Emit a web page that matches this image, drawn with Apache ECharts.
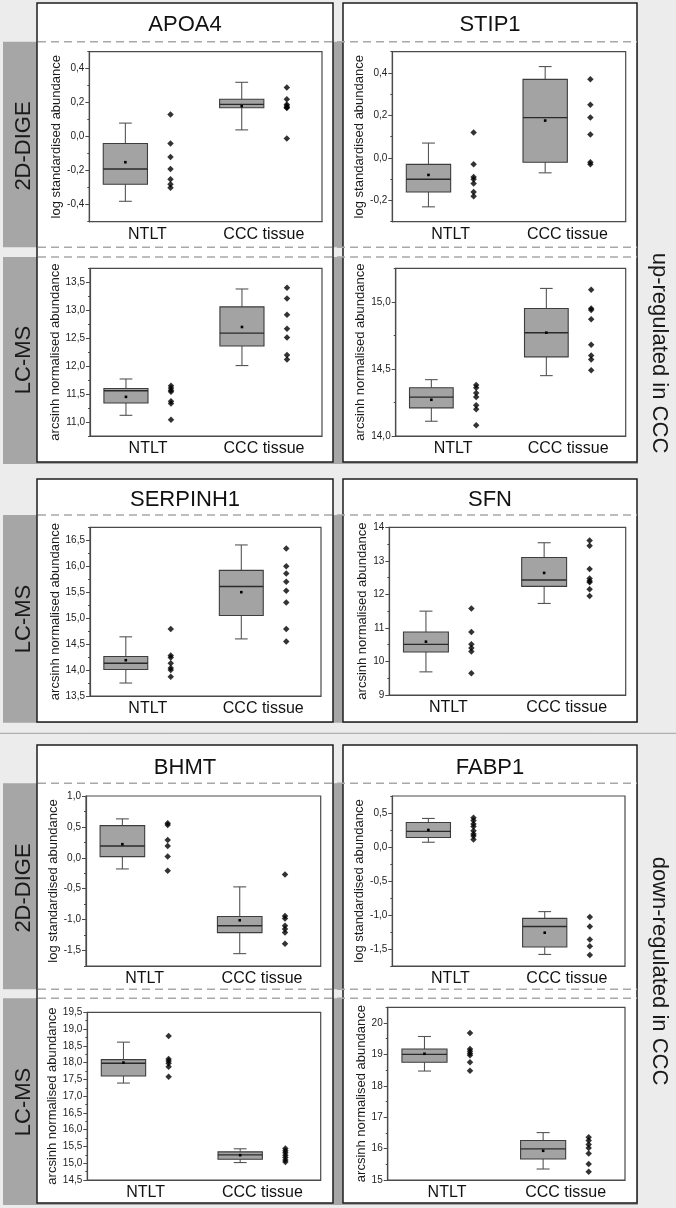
<!DOCTYPE html>
<html><head><meta charset="utf-8">
<script src="https://cdn.jsdelivr.net/npm/echarts@6/dist/echarts.min.js"></script>
<style>html,body{margin:0;padding:0;background:#ececec}#c{width:676px;height:1208px}</style>
</head><body><div id="c"></div>
<script>
// ---------------- DATA ----------------
const categories = ['NTLT', 'CCC tissue'];
const yNameDige = 'log standardised abundance';
const yNameLcms = 'arcsinh normalised abundance';
// box stats per group: [lower whisker, Q1, median, Q3, upper whisker, mean]
// APOA4 2D-DIGE
const apoa4DigeBox = [[-0.38, -0.28, -0.19, -0.04, 0.08, -0.15], [0.04, 0.17, 0.19, 0.22, 0.32, 0.18]];
const apoa4DigeNtlt = [0.13, -0.04, -0.12, -0.19, -0.25, -0.28, -0.30];
const apoa4DigeCcc = [0.29, 0.22, 0.19, 0.18, 0.17, 0.17, -0.01];
const apoa4DigeTicks = [-0.4, -0.2, 0, 0.2, 0.4];
const apoa4DigeMinor = [-0.5, -0.3, -0.1, 0.1, 0.3, 0.5];
// STIP1 2D-DIGE
const stip1DigeBox = [[-0.23, -0.16, -0.10, -0.03, 0.07, -0.08], [-0.07, -0.02, 0.19, 0.37, 0.43, 0.176]];
const stip1DigeNtlt = [0.12, -0.03, -0.09, -0.10, -0.12, -0.16, -0.18];
const stip1DigeCcc = [0.37, 0.25, 0.19, 0.11, -0.02, -0.03];
const stip1DigeTicks = [-0.2, 0, 0.2, 0.4];
const stip1DigeMinor = [-0.3, -0.1, 0.1, 0.3, 0.5];
// APOA4 LC-MS
const apoa4LcmsBox = [[11.12, 11.34, 11.56, 11.60, 11.77, 11.45], [12.01, 12.36, 12.59, 13.06, 13.38, 12.70]];
const apoa4LcmsNtlt = [11.65, 11.61, 11.57, 11.54, 11.37, 11.33, 11.04];
const apoa4LcmsCcc = [13.40, 13.21, 12.92, 12.67, 12.51, 12.20, 12.12];
const apoa4LcmsTicks = [11.0, 11.5, 12.0, 12.5, 13.0, 13.5];
const apoa4LcmsMinor = [10.75, 11.25, 11.75, 12.25, 12.75, 13.25, 13.75];
// STIP1 LC-MS
const stip1LcmsBox = [[14.11, 14.21, 14.29, 14.36, 14.42, 14.27], [14.45, 14.59, 14.77, 14.95, 15.10, 14.77]];
const stip1LcmsNtlt = [14.38, 14.36, 14.32, 14.29, 14.23, 14.20, 14.08];
const stip1LcmsCcc = [15.09, 14.95, 14.94, 14.87, 14.68, 14.60, 14.57, 14.49];
const stip1LcmsTicks = [14.0, 14.5, 15.0];
const stip1LcmsMinor = [14.25, 14.75, 15.25];
// SERPINH1 LC-MS
const serpLcmsBox = [[13.75, 14.01, 14.13, 14.26, 14.64, 14.19], [14.60, 15.05, 15.61, 15.92, 16.41, 15.50]];
const serpLcmsNtlt = [14.79, 14.28, 14.24, 14.13, 14.04, 14.00, 13.87];
const serpLcmsCcc = [16.34, 16.00, 15.86, 15.70, 15.53, 15.30, 14.79, 14.55];
const serpLcmsTicks = [13.5, 14.0, 14.5, 15.0, 15.5, 16.0, 16.5];
const serpLcmsMinor = [13.75, 14.25, 14.75, 15.25, 15.75, 16.25, 16.75];
// SFN LC-MS
const sfnLcmsBox = [[9.69, 10.28, 10.51, 10.88, 11.50, 10.59], [11.73, 12.24, 12.43, 13.10, 13.54, 12.64]];
const sfnLcmsNtlt = [11.58, 10.88, 10.51, 10.40, 10.30, 9.65];
const sfnLcmsCcc = [13.61, 13.45, 12.76, 12.47, 12.40, 12.36, 12.15, 11.95];
const sfnLcmsTicks = [9, 10, 11, 12, 13, 14];
const sfnLcmsMinor = [9.5, 10.5, 11.5, 12.5, 13.5];
// BHMT 2D-DIGE
const bhmtDigeBox = [[-0.18, 0.02, 0.19, 0.52, 0.63, 0.22], [-1.55, -1.21, -1.10, -0.95, -0.47, -1.01]];
const bhmtDigeNtlt = [0.56, 0.53, 0.29, 0.19, 0.02, -0.21];
const bhmtDigeCcc = [-0.27, -0.94, -0.98, -1.10, -1.15, -1.21, -1.39];
const bhmtDigeTicks = [-1.5, -1.0, -0.5, 0.0, 0.5, 1.0];
const bhmtDigeMinor = [-1.75, -1.25, -0.75, -0.25, 0.25, 0.75];
// FABP1 2D-DIGE
const fabp1DigeBox = [[0.07, 0.14, 0.23, 0.36, 0.42, 0.25], [-1.58, -1.47, -1.17, -1.05, -0.95, -1.26]];
const fabp1DigeNtlt = [0.43, 0.39, 0.34, 0.30, 0.24, 0.19, 0.16, 0.11];
const fabp1DigeCcc = [-1.03, -1.17, -1.36, -1.46, -1.59];
const fabp1DigeTicks = [-1.5, -1.0, -0.5, 0.0, 0.5];
const fabp1DigeMinor = [-1.75, -1.25, -0.75, -0.25, 0.25, 0.75];
// BHMT LC-MS
const bhmtLcmsBox = [[17.39, 17.60, 17.98, 18.09, 18.61, 18.00], [15.02, 15.12, 15.25, 15.34, 15.43, 15.24]];
const bhmtLcmsNtlt = [18.79, 18.11, 18.05, 17.98, 17.88, 17.58];
const bhmtLcmsCcc = [15.44, 15.37, 15.31, 15.24, 15.17, 15.10, 15.04];
const bhmtLcmsTicks = [14.5, 15.0, 15.5, 16.0, 16.5, 17.0, 17.5, 18.0, 18.5, 19.0, 19.5];
const bhmtLcmsMinor = [14.75, 15.25, 15.75, 16.25, 16.75, 17.25, 17.75, 18.25, 18.75, 19.25];
// FABP1 LC-MS
const fabp1LcmsBox = [[18.47, 18.75, 19.00, 19.17, 19.57, 19.02], [15.35, 15.67, 15.99, 16.26, 16.51, 15.93]];
const fabp1LcmsNtlt = [19.68, 19.17, 19.10, 19.03, 18.97, 18.75, 18.48];
const fabp1LcmsCcc = [16.36, 16.26, 16.13, 16.02, 15.84, 15.51, 15.26];
const fabp1LcmsTicks = [15, 16, 17, 18, 19, 20];
const fabp1LcmsMinor = [15.5, 16.5, 17.5, 18.5, 19.5, 20.5];

const titles = ['APOA4', 'STIP1', 'SERPINH1', 'SFN', 'BHMT', 'FABP1'];
const methods = ['2D-DIGE', 'LC-MS'];
const regulation = ['up-regulated in CCC', 'down-regulated in CCC'];

// ---------------- LAYOUT ----------------
const FONT = '"Liberation Sans", Arial, Helvetica, sans-serif';
const panels = [
  {g: [89.3, 51.7, 322, 221.7], nx: 56.7, min: -0.5, max: 0.5, step: 0.1, dec: 1, name: yNameDige, box: apoa4DigeBox, a: apoa4DigeNtlt, b: apoa4DigeCcc, major: apoa4DigeTicks, minor: apoa4DigeMinor},
  {g: [392.3, 51.7, 625.7, 221.7], nx: 362, min: -0.3, max: 0.5, step: 0.1, dec: 1, name: yNameDige, box: stip1DigeBox, a: stip1DigeNtlt, b: stip1DigeCcc, major: stip1DigeTicks, minor: stip1DigeMinor},
  {g: [90, 268.3, 322, 436], nx: 56.7, min: 10.75, max: 13.75, step: 0.25, dec: 1, name: yNameLcms, box: apoa4LcmsBox, a: apoa4LcmsNtlt, b: apoa4LcmsCcc, major: apoa4LcmsTicks, minor: apoa4LcmsMinor},
  {g: [395.7, 268.3, 625.7, 436], nx: 362, min: 14, max: 15.25, step: 0.25, dec: 1, name: yNameLcms, box: stip1LcmsBox, a: stip1LcmsNtlt, b: stip1LcmsCcc, major: stip1LcmsTicks, minor: stip1LcmsMinor},
  {g: [90, 527.3, 321, 696], nx: 56.7, min: 13.5, max: 16.75, step: 0.25, dec: 1, name: yNameLcms, box: serpLcmsBox, a: serpLcmsNtlt, b: serpLcmsCcc, major: serpLcmsTicks, minor: serpLcmsMinor},
  {g: [389.3, 527.3, 625.7, 695], nx: 362.5, min: 9, max: 14, step: 0.5, dec: 0, name: yNameLcms, box: sfnLcmsBox, a: sfnLcmsNtlt, b: sfnLcmsCcc, major: sfnLcmsTicks, minor: sfnLcmsMinor},
  {g: [86, 796, 320.7, 966], nx: 56.7, min: -1.75, max: 1.0, step: 0.25, dec: 1, name: yNameDige, box: bhmtDigeBox, a: bhmtDigeNtlt, b: bhmtDigeCcc, major: bhmtDigeTicks, minor: bhmtDigeMinor},
  {g: [392.3, 796, 625, 966], nx: 362, min: -1.75, max: 0.75, step: 0.25, dec: 1, name: yNameDige, box: fabp1DigeBox, a: fabp1DigeNtlt, b: fabp1DigeCcc, major: fabp1DigeTicks, minor: fabp1DigeMinor},
  {g: [87.3, 1012.3, 320.7, 1180], nx: 56.7, min: 14.5, max: 19.5, step: 0.25, dec: 1, name: yNameLcms, box: bhmtLcmsBox, a: bhmtLcmsNtlt, b: bhmtLcmsCcc, major: bhmtLcmsTicks, minor: bhmtLcmsMinor},
  {g: [387.7, 1007.3, 625, 1180], nx: 362.5, min: 15, max: 20.5, step: 0.5, dec: 0, name: yNameLcms, box: fabp1LcmsBox, a: fabp1LcmsNtlt, b: fabp1LcmsCcc, major: fabp1LcmsTicks, minor: fabp1LcmsMinor}
];

const AX = '#4a4a4a';

function renderBox(params, api) {
  const k = api.value(0);
  const v = [1, 2, 3, 4, 5, 6].map(d => api.value(d));
  const bw = api.size([1, 0])[0];
  const cx = api.coord([k, v[2]])[0];
  const L = cx - 0.38 * bw, R = cx;
  const M = (L + R) / 2, cw = 0.055 * bw;
  const y = val => api.coord([k, val])[1];
  const yMin = y(v[0]), yQ1 = y(v[1]), yMed = y(v[2]), yQ3 = y(v[3]), yMax = y(v[4]), yMean = y(v[5]);
  const ls = {stroke: '#555', lineWidth: 1.1};
  return {type: 'group', children: [
    {type: 'line', shape: {x1: M, y1: yQ3, x2: M, y2: yMax}, style: ls},
    {type: 'line', shape: {x1: M - cw, y1: yMax, x2: M + cw, y2: yMax}, style: ls},
    {type: 'line', shape: {x1: M, y1: yQ1, x2: M, y2: yMin}, style: ls},
    {type: 'line', shape: {x1: M - cw, y1: yMin, x2: M + cw, y2: yMin}, style: ls},
    {type: 'rect', shape: {x: L, y: yQ3, width: R - L, height: yQ1 - yQ3}, style: {fill: '#a3a3a3', stroke: '#3d3d3d', lineWidth: 1.1}},
    {type: 'line', shape: {x1: L, y1: yMed, x2: R, y2: yMed}, style: {stroke: '#2a2a2a', lineWidth: 1.4}},
    {type: 'rect', shape: {x: M - 1.3, y: yMean - 1.3, width: 2.6, height: 2.6}, style: {fill: '#000'}}
  ]};
}

const grids = [], xAxes = [], yAxes = [], series = [];
panels.forEach((p, i) => {
  grids.push({left: p.g[0], top: p.g[1], width: p.g[2] - p.g[0], height: p.g[3] - p.g[1], show: true,
    borderColor: AX, borderWidth: 1.2, backgroundColor: 'transparent', containLabel: false, outerBoundsMode: 'none'});
  xAxes.push({gridIndex: i, type: 'category', data: categories, boundaryGap: true,
    axisLine: {onZero: false, lineStyle: {color: AX, width: 1.2}},
    axisTick: {alignWithLabel: true, length: 4, lineStyle: {color: AX}},
    axisLabel: {fontSize: 16, color: '#111', margin: 5, fontFamily: FONT},
    splitLine: {show: false}});
  const fmt = v => p.dec ? v.toFixed(p.dec).replace('.', ',') : String(Math.round(v));
  yAxes.push({gridIndex: i, type: 'value', min: p.min, max: p.max, interval: p.step, position: 'left', offset: 0,
    name: p.name, nameLocation: 'middle', nameGap: p.g[0] - p.nx - 7,
    nameTextStyle: {fontSize: 13, color: '#1a1a1a', fontFamily: FONT},
    axisLine: {show: true, onZero: false, lineStyle: {color: AX, width: 1.2}},
    axisTick: {show: true, length: 4, customValues: p.major, lineStyle: {color: AX}},
    axisLabel: {customValues: p.major, fontSize: 10, color: '#222', margin: 5, fontFamily: FONT,
      formatter: v => p.major.some(m => Math.abs(m - v) < 1e-6) ? fmt(v) : ''},
    splitLine: {show: false}});
  yAxes.push({gridIndex: i, type: 'value', min: p.min, max: p.max, interval: p.step, position: 'left', offset: 0,
    axisLine: {show: false, onZero: false}, axisTick: {show: true, length: 2, customValues: p.minor, lineStyle: {color: AX}},
    axisLabel: {show: false}, splitLine: {show: false}});
  series.push({type: 'custom', xAxisIndex: i, yAxisIndex: 2 * i, data: p.box.map((b, k) => [k, ...b]),
    encode: {x: 0, y: [1, 2, 3, 4, 5, 6]}, renderItem: renderBox, z: 3, silent: true});
  series.push({type: 'scatter', xAxisIndex: i, yAxisIndex: 2 * i,
    data: [...p.a.map(v => [0, v]), ...p.b.map(v => [1, v])],
    symbol: 'diamond', symbolSize: 6.5, symbolOffset: [23, 0], itemStyle: {color: '#000'}, z: 4, silent: true});
});

// Background decoration
const bands = [[41.7, 247.3], [257, 464], [515, 722.7], [783.3, 989.3], [998.3, 1205]];
const frames = [[37, 3, 333, 462], [343, 3, 637, 462], [37, 479, 333, 722], [343, 479, 637, 722], [37, 745, 333, 1203], [343, 745, 637, 1203]];
const dashYs = [41.7, 247.3, 257, 515, 783.3, 989.3, 998.3];
const graphics = [];
bands.forEach(b => graphics.push({type: 'rect', z: -20, shape: {x: 3, y: b[0], width: 635, height: b[1] - b[0]}, style: {fill: '#a6a6a6'}}));
frames.forEach(f => graphics.push({type: 'rect', z: -15, shape: {x: f[0], y: f[1], width: f[2] - f[0], height: f[3] - f[1]}, style: {fill: '#fff', stroke: '#1e1e1e', lineWidth: 1.5}}));
dashYs.forEach(y => graphics.push({type: 'line', z: -10, shape: {x1: 38, y1: y, x2: 637, y2: y}, style: {stroke: '#a8a8a8', lineWidth: 1.5, lineDash: [8, 5]}}));
graphics.push({type: 'line', z: -10, shape: {x1: 0, y1: 733.3, x2: 676, y2: 733.3}, style: {stroke: '#a0a0a0', lineWidth: 1}});
const titlePos = [[185, 25], [490, 25], [185, 499.5], [490, 499.5], [185, 768], [490, 768]];
titles.forEach((t, i) => graphics.push({type: 'text', z: -5, x: titlePos[i][0], y: titlePos[i][1],
  style: {text: t, font: '22px ' + FONT, fill: '#111', align: 'center', verticalAlign: 'middle'}}));
const methodPos = [[0, 146], [1, 360], [1, 619], [0, 888], [1, 1102]];
methodPos.forEach(m => graphics.push({type: 'text', z: -5, x: 24, y: m[1], rotation: Math.PI / 2,
  style: {text: methods[m[0]], font: '22px ' + FONT, fill: '#1a1a1a', align: 'center', verticalAlign: 'middle'}}));
const regPos = [353, 971];
regulation.forEach((t, i) => graphics.push({type: 'text', z: -5, x: 659, y: regPos[i], rotation: -Math.PI / 2,
  style: {text: t, font: '22px ' + FONT, fill: '#1a1a1a', align: 'center', verticalAlign: 'middle'}}));

const chart = echarts.init(document.getElementById('c'), null, {renderer: 'canvas', width: 676, height: 1208});
chart.setOption({
  backgroundColor: '#ececec',
  animation: false,
  graphic: {elements: graphics},
  grid: grids, xAxis: xAxes, yAxis: yAxes, series: series
});
</script></body></html>
